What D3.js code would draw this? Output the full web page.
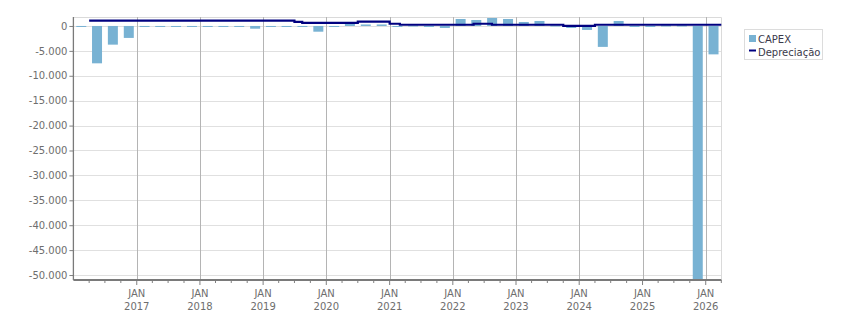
<!DOCTYPE html>
<html>
<head>
<meta charset="utf-8">
<script src="https://cdn.jsdelivr.net/npm/d3@7"></script>
<style>
    body { margin: 0; background: #fff; }
    text { font-family: 'DejaVu Sans', sans-serif; font-size: 10px; }
</style>
</head>
<body>
<script>
//data
var capexQuarters = ['2016-01', '2016-04', '2016-07', '2016-10',
    '2017-01', '2017-04', '2017-07', '2017-10',
    '2018-01', '2018-04', '2018-07', '2018-10',
    '2019-01', '2019-04', '2019-07', '2019-10',
    '2020-01', '2020-04', '2020-07', '2020-10',
    '2021-01', '2021-04', '2021-07', '2021-10',
    '2022-01', '2022-04', '2022-07', '2022-10',
    '2023-01', '2023-04', '2023-07', '2023-10',
    '2024-01', '2024-04', '2024-07', '2024-10',
    '2025-01', '2025-04', '2025-07', '2025-10',
    '2026-01'];
var capexValues = [-200, -7500, -3750, -2400,
    -200, -200, -200, -200,
    -200, -200, -200, -550,
    -200, -200, -200, -1150,
    -200, 550, 300, 300,
    -200, 100, -200, -400,
    1400, 1200, 1600, 1400,
    800, 1000, 100, -400,
    -800, -4200, 1000, -200,
    -200, 100, 100, -51000,
    -5700];
var depDates = ['2016-04-01', '2019-07-01', '2019-08-15', '2020-07-01', '2021-01-01', '2021-03-01',
    '2022-05-01', '2022-08-15', '2023-10-01', '2024-04-01', '2026-04-01'];
var depValues = [1080, 820, 620, 880, 440, 240, 440, 240, 20, 240, 240];
var yTicks = [0, -5000, -10000, -15000, -20000, -25000, -30000, -35000, -40000, -45000, -50000];
var xYears = [2017, 2018, 2019, 2020, 2021, 2022, 2023, 2024, 2025, 2026];
var legendItems = ['CAPEX', 'Depreciação'];
//end data

var parseMonth = d3.timeParse('%Y-%m');
var parseDay = d3.timeParse('%Y-%m-%d');
var ptFormat = d3.formatLocale({ decimal: ',', thousands: '.', grouping: [3], currency: ['R$', ''], minus: '-' }).format(',');

var plot = { left: 73.4, right: 721.3, top: 17, bottom: 280 };
var barColor = '#78b2d3';
var lineColor = '#000080';
var labelColor = '#6e6e6e';

var svg = d3.select('body').append('svg')
    .attr('width', 851)
    .attr('height', 313);

//scales
var xScale = d3.scaleTime()
    .domain([new Date(2016, 0, 1), new Date(2026, 3, 1)])
    .range([plot.left, plot.right]);
var yScale = d3.scaleLinear()
    .domain([1800, -51000])
    .range([plot.top, plot.bottom]);

svg.append('clipPath').attr('id', 'plotClip')
    .append('rect')
    .attr('x', plot.left).attr('y', plot.top)
    .attr('width', plot.right - plot.left).attr('height', plot.bottom - plot.top);

//horizontal grid lines
svg.append('g').selectAll('line')
    .data(yTicks)
    .enter().append('line')
    .attr('x1', plot.left).attr('x2', plot.right)
    .attr('y1', function (d) { return Math.round(yScale(d)) + 0.5; })
    .attr('y2', function (d) { return Math.round(yScale(d)) + 0.5; })
    .attr('stroke', '#e0e0e0');

//plot top and right border
svg.append('path')
    .attr('d', 'M' + plot.left + ',' + (plot.top + 0.5) + 'H' + (Math.round(plot.right) + 0.5) + 'V' + plot.bottom)
    .attr('fill', 'none')
    .attr('stroke', '#dadada');

//vertical grid lines at january
svg.append('g').selectAll('line')
    .data(xYears)
    .enter().append('line')
    .attr('x1', function (d) { return Math.round(xScale(new Date(d, 0, 1))) + 0.5; })
    .attr('x2', function (d) { return Math.round(xScale(new Date(d, 0, 1))) + 0.5; })
    .attr('y1', plot.top).attr('y2', plot.bottom)
    .attr('stroke', '#b4b4b4');

//capex bars
var barWidth = 10;
svg.append('g')
    .attr('clip-path', 'url(#plotClip)')
    .selectAll('rect')
    .data(capexValues)
    .enter().append('rect')
    .attr('x', function (d, i) {
    var start = parseMonth(capexQuarters[i]);
    var end = d3.timeMonth.offset(start, 3);
    return (xScale(start) + xScale(end)) / 2 - barWidth / 2;
})
    .attr('y', function (d) { return yScale(Math.max(0, d)); })
    .attr('width', barWidth)
    .attr('height', function (d) { return Math.max(1, Math.abs(yScale(d) - yScale(0))); })
    .attr('fill', barColor);

//depreciation step line
var depData = depDates.map(function (d, i) { return { date: parseDay(d), value: depValues[i] }; });
var lineFunc = d3.line()
    .x(function (d) { return xScale(d.date); })
    .y(function (d) { return yScale(d.value); })
    .curve(d3.curveStepAfter);
svg.append('path')
    .datum(depData)
    .attr('d', lineFunc)
    .attr('fill', 'none')
    .attr('stroke', lineColor)
    .attr('stroke-width', 2.2);

//y axis
var yAxis = d3.axisLeft(yScale)
    .tickValues(yTicks)
    .tickSize(4)
    .tickPadding(2)
    .tickFormat(ptFormat);
var gY = svg.append('g')
    .attr('transform', 'translate(' + plot.left + ',0)')
    .call(yAxis);
gY.select('.domain').remove();
gY.selectAll('.tick line').attr('stroke', '#808080');
gY.selectAll('text').attr('fill', labelColor).style('font-family', "'DejaVu Sans', sans-serif").style('font-size', '10px');
svg.append('line')
    .attr('x1', plot.left).attr('x2', plot.left)
    .attr('y1', plot.top).attr('y2', plot.bottom)
    .attr('stroke', '#7a7a7a').attr('stroke-width', 1.3);

//x axis with quarterly minor ticks
var gX = svg.append('g')
    .attr('transform', 'translate(0,' + plot.bottom + ')');
gX.selectAll('line.minor')
    .data(capexQuarters.slice(1).concat(['2026-04']))
    .enter().append('line')
    .attr('class', 'minor')
    .attr('x1', function (d) { return xScale(parseMonth(d)); })
    .attr('x2', function (d) { return xScale(parseMonth(d)); })
    .attr('y1', 0)
    .attr('y2', function (d) { return parseMonth(d).getMonth() === 0 ? 5 : 3; })
    .attr('stroke', '#808080');
gX.append('line')
    .attr('x1', plot.left).attr('x2', plot.right)
    .attr('y1', 0).attr('y2', 0)
    .attr('stroke', '#7a7a7a').attr('stroke-width', 2.2);
var xLabels = gX.selectAll('text.year')
    .data(xYears)
    .enter().append('text')
    .attr('class', 'year')
    .attr('text-anchor', 'middle')
    .attr('fill', labelColor)
    .attr('x', function (d) { return xScale(new Date(d, 0, 1)); });
xLabels.append('tspan').attr('y', 17).text('JAN');
xLabels.append('tspan')
    .attr('x', function (d) { return xScale(new Date(d, 0, 1)); })
    .attr('y', 30)
    .text(function (d) { return d; });

//legend
var gLegend = svg.append('g').attr('class', 'legend');
gLegend.append('rect')
    .attr('x', 744.5).attr('y', 29.5)
    .attr('width', 78).attr('height', 30)
    .attr('fill', '#fff').attr('stroke', '#dcdcdc');
gLegend.append('rect')
    .attr('x', 749).attr('y', 35)
    .attr('width', 7).attr('height', 7)
    .attr('fill', barColor);
gLegend.append('line')
    .attr('x1', 749).attr('x2', 756)
    .attr('y1', 50.5).attr('y2', 50.5)
    .attr('stroke', lineColor).attr('stroke-width', 2);
gLegend.selectAll('text')
    .data(legendItems)
    .enter().append('text')
    .attr('x', 758)
    .attr('y', function (d, i) { return 42.5 + i * 13.5; })
    .attr('fill', '#3a3a4a')
    .text(function (d) { return d; });
</script>
</body>
</html>
